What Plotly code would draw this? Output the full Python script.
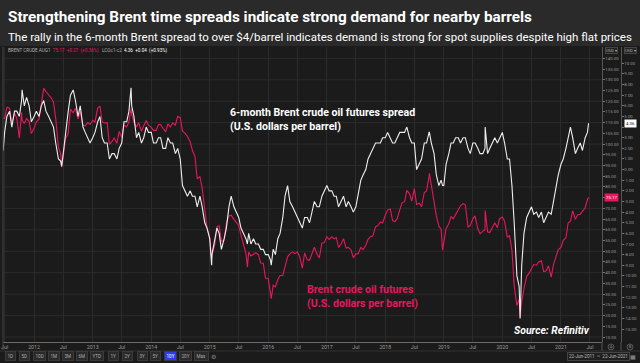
import pandas as pd
import plotly.graph_objects as go

# ---------------- data (semi-monthly readings, 1st and 15th of each month) ----------------
price_2011 = [111.9, 117.2, 116.7, 109.9, 114.3, 112.2, 102.8, 114.7, 109.6, 111.9, 110.5, 104.9]
price_2012 = [107.4, 110.4, 111.6, 118.0, 126.0, 124.5, 123.0, 121.7, 119.7, 112.0, 98.4, 95.5,
              96.0, 102.4, 105.0, 116.3, 114.6, 116.7, 111.7, 115.1, 108.7, 108.5, 110.0, 109.2]
price_2013 = [111.1, 110.3, 116.8, 117.7, 110.4, 109.8, 110.0, 99.9, 101.2, 102.8, 100.4, 105.9,
              103.0, 108.8, 108.0, 110.4, 114.0, 110.1, 108.0, 110.0, 105.9, 108.5, 111.0, 108.8]
price_2014 = [107.8, 106.4, 106.4, 109.1, 109.1, 107.4, 105.6, 109.4, 108.0, 109.8, 108.9, 112.9,
              112.3, 106.0, 105.0, 103.5, 101.0, 97.0, 94.2, 83.8, 84.8, 79.4, 68.2, 61.1]
price_2015 = [56.4, 48.3, 52.9, 61.5, 61.9, 54.7, 55.1, 63.3, 66.5, 66.8, 64.9, 63.6,
              62.0, 57.5, 52.2, 49.0, 49.6, 47.8, 48.7, 49.3, 48.4, 44.5, 44.4, 37.5]
price_2016 = [37.3, 28.9, 34.2, 33.4, 36.8, 38.7, 38.7, 43.1, 47.4, 48.8, 49.7, 48.9,
              49.7, 47.6, 42.1, 49.2, 46.0, 45.8, 49.1, 51.9, 48.6, 46.9, 53.9, 54.0]
price_2017 = [56.8, 55.5, 56.8, 55.8, 56.4, 51.8, 53.5, 55.9, 51.5, 51.8, 50.6, 46.9,
              48.8, 48.9, 51.8, 50.8, 52.8, 55.6, 56.8, 57.2, 61.4, 62.0, 63.7, 63.2]
price_2018 = [66.9, 69.2, 69.7, 64.3, 63.8, 65.1, 69.3, 72.6, 73.1, 78.4, 76.8, 73.4,
              79.2, 71.8, 72.4, 70.8, 77.4, 78.1, 84.9, 80.8, 72.9, 66.6, 61.7, 60.3]
price_2019 = [53.8, 60.6, 62.8, 66.3, 65.1, 67.2, 69.0, 71.2, 72.2, 71.8, 61.3, 62.0,
              65.1, 66.5, 60.5, 58.2, 59.3, 60.2, 59.1, 58.7, 61.7, 63.3, 61.0, 65.2]
price_2020 = [66.0, 64.0, 56.6, 57.3, 50.5, 33.9, 24.7, 27.7, 26.4, 32.5, 38.3, 39.7,
              42.0, 43.8, 43.5, 45.0, 45.6, 40.5, 40.9, 43.2, 37.9, 43.8, 47.4, 50.8]
price_2021 = [51.8, 55.1, 56.3, 63.3, 64.0, 68.9, 64.9, 66.9, 67.3, 68.7, 70.3, 74.0]

spread_2011 = [3.5, 5.0, 5.5, 4.0, 5.5, 5.5, 5.0, 6.5, 6.0, 6.8, 6.0, 4.5]
spread_2012 = [5.0, 5.5, 5.0, 6.0, 6.5, 5.5, 5.0, 4.5, 4.0, 2.5, 1.0, 0.8,
               1.5, 3.5, 5.5, 7.0, 7.5, 6.5, 5.0, 6.0, 4.0, 3.5, 3.0, 2.5]
spread_2013 = [3.0, 3.5, 4.5, 5.0, 3.0, 2.5, 2.5, 1.0, 1.5, 1.5, 1.0, 2.0,
               2.5, 4.5, 4.5, 5.5, 6.0, 5.0, 3.0, 3.5, 2.5, 3.0, 4.0, 3.5]
spread_2014 = [3.5, 2.5, 2.5, 3.0, 3.0, 2.0, 2.0, 3.0, 2.5, 2.5, 1.5, 2.0,
               1.0, -1.5, -2.0, -2.5, -2.0, -2.5, -2.5, -3.5, -2.5, -3.5, -5.0, -5.5]
spread_2015 = [-6.5, -8.0, -6.5, -5.5, -6.0, -7.5, -6.5, -5.5, -3.5, -2.5, -3.5, -4.0,
               -4.5, -5.5, -6.0, -6.5, -6.0, -7.0, -6.5, -7.0, -7.0, -7.5, -7.5, -8.0]
spread_2016 = [-8.0, -8.5, -7.5, -8.0, -6.5, -6.0, -4.5, -2.5, -1.5, -3.0, -3.5, -4.0,
               -4.5, -5.0, -5.5, -4.5, -4.5, -5.0, -4.0, -3.0, -3.5, -3.5, -2.5, -2.0]
spread_2017 = [-1.5, -2.0, -2.0, -2.5, -2.5, -3.5, -3.0, -2.5, -3.5, -3.0, -3.5, -4.0,
               -3.5, -2.5, -1.0, -0.5, 0.0, 1.0, 1.5, 2.0, 2.5, 2.5, 2.5, 3.0]
spread_2018 = [3.0, 3.5, 3.0, 2.5, 2.5, 3.0, 3.5, 3.5, 3.5, 4.0, 3.0, 2.5,
               2.5, 0.0, 0.5, 1.0, 2.5, 2.5, 3.5, 2.5, 1.5, -0.5, -1.5, -1.0]
spread_2019 = [-1.5, 0.5, 1.5, 2.5, 2.5, 3.0, 3.0, 2.5, 3.0, 3.0, 2.0, 1.5,
               2.5, 2.5, 2.0, 1.5, 1.5, 2.0, 1.5, 2.0, 2.5, 3.0, 2.5, 3.0]
spread_2020 = [3.5, 2.5, 1.0, 1.0, -1.5, -5.0, -10.0, -11.0, -9.0, -6.0, -4.5, -4.0,
               -3.5, -4.2, -4.0, -4.5, -4.0, -5.0, -4.5, -4.0, -4.2, -3.0, -1.5, -0.5]
spread_2021 = [0.5, 1.0, 2.0, 3.0, 4.0, 3.0, 1.5, 2.0, 2.5, 1.8, 3.0, 3.5]

# extra daily readings at turning points
extra_dates = ['2011-06-22', '2011-10-18', '2012-06-21', '2013-08-28', '2015-01-13', '2015-08-24',
               '2016-01-20', '2018-10-03', '2018-12-24', '2019-09-16', '2020-04-21', '2021-06-22']
extra_price = [112.0, 111.2, 89.2, 116.6, 46.6, 42.7, 27.9, 86.3, 50.5, 69.0, 19.3, 75.17]
extra_spread = [1.8, 7.5, 0.3, 7.7, -9.0, -7.0, -9.0, 3.5, -1.5, 4.0, -14.0, 4.36]

price_ticks = list(range(10, 145, 5))
spread_ticks = list(range(-15, 11, 1))
x_tick_dates = ['2011-07-01', '2012-01-01', '2012-07-01', '2013-01-01', '2013-07-01', '2014-01-01',
                '2014-07-01', '2015-01-01', '2015-07-01', '2016-01-01', '2016-07-01', '2017-01-01',
                '2017-07-01', '2018-01-01', '2018-07-01', '2019-01-01', '2019-07-01', '2020-01-01',
                '2020-07-01', '2021-01-01', '2021-07-01']
x_tick_text = ['Jul', '2012', 'Jul', '2013', 'Jul', '2014', 'Jul', '2015', 'Jul', '2016', 'Jul', '2017',
               'Jul', '2018', 'Jul', '2019', 'Jul', '2020', 'Jul', '2021', 'Jul']
range_buttons = ['1D', '5D', '10D', '1M', '3M', '6M', 'YTD', '1Y', '2Y', '3Y', '5Y', '10Y', '20Y', 'Max']

# ---------------- assemble series ----------------
base_dates = []
for yr in range(2011, 2022):
    for mo in range(1, 13):
        for dy in (1, 15):
            t = pd.Timestamp(yr, mo, dy)
            if pd.Timestamp('2011-07-01') <= t <= pd.Timestamp('2021-06-15'):
                base_dates.append(t)
base_price = (price_2011 + price_2012 + price_2013 + price_2014 + price_2015 + price_2016 +
              price_2017 + price_2018 + price_2019 + price_2020 + price_2021)
base_spread = (spread_2011 + spread_2012 + spread_2013 + spread_2014 + spread_2015 + spread_2016 +
               spread_2017 + spread_2018 + spread_2019 + spread_2020 + spread_2021)
df = pd.DataFrame({'date': base_dates, 'price': base_price, 'spread': base_spread})
ex = pd.DataFrame({'date': pd.to_datetime(extra_dates), 'price': extra_price, 'spread': extra_spread})
df = pd.concat([df, ex]).sort_values('date').reset_index(drop=True)

# ---------------- figure ----------------
W, H = 640, 363
def px(x):
    return x / W
def py(y):
    return (H - y) / H

PINK = '#e8175d'
WHITE = '#eeeeee'
BG = '#1b1b1b'
HEADER = '#2a2a2a'
GRID = '#2b2b2b'
AXC = '#9a9a9a'
FONT = 'Roboto, sans-serif'

fig = go.Figure()
fig.add_trace(go.Scatter(x=df['date'], y=df['price'], yaxis='y', mode='lines',
                         line=dict(color=PINK, width=1.1), hoverinfo='skip'))
fig.add_trace(go.Scatter(x=df['date'], y=df['spread'], yaxis='y2', mode='lines',
                         line=dict(color=WHITE, width=1.1), hoverinfo='skip'))

PLOT_L, PLOT_R, PLOT_T, PLOT_B = 3, 602, 47, 342
AX2 = 621
X0, X1 = px(PLOT_L), px(PLOT_R)
Y0, Y1 = py(PLOT_B), py(PLOT_T)
# pixel calibration of the two value scales
price_range = [140 - (PLOT_B - 58.3) / 2.144, 140 + (58.3 - PLOT_T) / 2.144]
spread_range = [10 - (PLOT_B - 63.3) / 10.63, 10 + (63.3 - PLOT_T) / 10.63]

price_text = ['' if v == 75 else '%.2f' % v for v in price_ticks]
spread_text = ['' if v == 4 else '%.2f' % v for v in spread_ticks]

fig.update_layout(
    width=W, height=H, margin=dict(l=0, r=0, t=0, b=0),
    paper_bgcolor=BG, plot_bgcolor=BG, showlegend=False,
    font=dict(family=FONT, color=AXC),
    xaxis=dict(domain=[X0, X1], type='date', range=['2011-06-21', '2021-09-14'],
               tickvals=x_tick_dates, ticktext=x_tick_text, tickangle=0, automargin=False,
               tickfont=dict(size=5.3, color=AXC, family='Roboto'),
               showgrid=True, gridcolor=GRID, gridwidth=1, zeroline=False,
               showline=True, linecolor='#6a6a6a', linewidth=1, ticks='',
               anchor='y'),
    yaxis=dict(domain=[Y0, Y1], range=price_range,
               side='right', anchor='free', automargin=False,
               position=px(PLOT_R), tickvals=price_ticks, ticktext=price_text,
               tickfont=dict(size=4.3, color=AXC, family='Roboto'),
               ticks='outside', ticklen=1.5, tickcolor='#777',
               showline=True, linecolor='#555', showgrid=False, zeroline=False),
    yaxis2=dict(domain=[Y0, Y1], range=spread_range,
                side='right', anchor='free', automargin=False,
                overlaying='y', position=px(AX2), tickvals=spread_ticks, ticktext=spread_text,
                tickfont=dict(size=4.3, color=AXC, family='Roboto'),
                ticks='outside', ticklen=1.5, tickcolor='#777',
                showline=True, linecolor='#555', showgrid=False, zeroline=False),
)

shapes = []
# header band
shapes.append(dict(type='rect', xref='paper', yref='paper', x0=0, x1=1, y0=py(46), y1=1,
                   fillcolor=HEADER, line=dict(width=0), layer='below'))
# horizontal grid on the price scale
for v in range(10, 150, 10):
    shapes.append(dict(type='line', xref='paper', yref='y', x0=X0, x1=X1, y0=v, y1=v,
                       line=dict(color=GRID, width=1), layer='below'))
# left border of the chart panel
shapes.append(dict(type='line', xref='paper', yref='paper', x0=px(3), x1=px(3), y0=py(350), y1=py(47),
                   line=dict(color='#444', width=1)))
# axis columns continue below the x axis
for lx in (PLOT_R, AX2):
    shapes.append(dict(type='line', xref='paper', yref='paper', x0=px(lx), x1=px(lx), y0=py(351), y1=py(342),
                       line=dict(color='#555', width=1)))
shapes.append(dict(type='line', xref='paper', yref='paper', x0=0, x1=1, y0=py(351), y1=py(351),
                   line=dict(color='#333', width=1)))
# small axis-mode circles
for cx in (611, 630):
    shapes.append(dict(type='circle', xref='paper', yref='paper', x0=px(cx - 3), x1=px(cx + 3),
                       y0=py(350), y1=py(344), line=dict(color='#555', width=1), fillcolor='#262626'))
fig.update_layout(shapes=shapes)

ann = []
# title and subtitle
ann.append(dict(text='<b>Strengthening Brent time spreads indicate strong demand for nearby barrels</b>',
                x=px(6), y=py(17), xref='paper', yref='paper', xanchor='left', yanchor='middle',
                showarrow=False, font=dict(size=15.3, color='#ffffff', family=FONT)))
ann.append(dict(text='The rally in the 6-month Brent spread to over $4/barrel indicates demand is strong for spot supplies despite high flat prices',
                x=px(6), y=py(37), xref='paper', yref='paper', xanchor='left', yanchor='middle',
                showarrow=False, font=dict(size=11.5, color='#ffffff', family=FONT)))
# legend strip
ann.append(dict(text="BRENT CRUDE AUG1  <span style='color:%s'>75.17  +0.27  (+0.36%%)</span>   LCOc1-c2  <span style='color:#ffffff'>4.36  +0.04  (+0.93%%)</span>" % PINK,
                x=px(6), y=py(51), xref='paper', yref='paper', xanchor='left', yanchor='middle',
                showarrow=False, font=dict(size=4.6, color='#b0b0b0', family='Roboto')))
for cx in (611, 630):
    ann.append(dict(text='USD ▾', x=px(cx), y=py(51), xref='paper', yref='paper',
                    xanchor='center', yanchor='middle', showarrow=False,
                    font=dict(size=4.0, color='#b0b0b0', family='Roboto'),
                    bgcolor='#232323', bordercolor='#444', borderwidth=1, borderpad=0))
# series labels
ann.append(dict(text='<b>6-month Brent crude oil futures spread<br>(U.S. dollars per barrel)</b>',
                x=px(228), y=py(104), xref='paper', yref='paper', xanchor='left', yanchor='top',
                align='left', showarrow=False, font=dict(size=10.6, color='#ffffff', family=FONT)))
ann.append(dict(text='<b>Brent crude oil futures<br>(U.S. dollars per barrel)</b>',
                x=px(305), y=py(281), xref='paper', yref='paper', xanchor='left', yanchor='top',
                align='left', showarrow=False, font=dict(size=10.6, color=PINK, family=FONT)))
ann.append(dict(text='<b><i>Source: Refinitiv</i></b>',
                x=px(592), y=py(330), xref='paper', yref='paper', xanchor='right', yanchor='middle',
                showarrow=False, font=dict(size=10.4, color='#ffffff', family=FONT)))
# last value tags on the axes
ann.append(dict(text='75.17', x=px(611), y=df['price'].iloc[-1], xref='paper', yref='y',
                xanchor='center', yanchor='middle', showarrow=False,
                font=dict(size=4.3, color='#ffffff', family='Roboto'), bgcolor=PINK, borderpad=1))
ann.append(dict(text='4.36', x=px(630), y=df['spread'].iloc[-1], xref='paper', yref='y2',
                xanchor='center', yanchor='middle', showarrow=False,
                font=dict(size=4.3, color='#111111', family='Roboto'), bgcolor='#ffffff', borderpad=1))
# range buttons
btn_x = [10, 24, 39, 54, 68, 82, 97, 113, 127, 142, 155, 170, 185, 201]
for lab, bx in zip(range_buttons, btn_x):
    sel = lab == '10Y'
    ann.append(dict(text=lab, x=px(bx), y=py(356), xref='paper', yref='paper',
                    xanchor='center', yanchor='middle', showarrow=False,
                    font=dict(size=4.6, color='#ffffff' if sel else '#aaaaaa', family='Roboto'),
                    bgcolor='#2c3df0' if sel else '#2a2a2a', bordercolor='#3a3a3a', borderwidth=1,
                    borderpad=1.5))
ann.append(dict(text='⚙', x=px(213), y=py(356), xref='paper', yref='paper', xanchor='center',
                yanchor='middle', showarrow=False, font=dict(size=6, color='#888')))
ann.append(dict(text='22-Jun-2011  ~  22-Jun-2021', x=px(598), y=py(356), xref='paper', yref='paper',
                xanchor='center', yanchor='middle', showarrow=False,
                font=dict(size=4.6, color='#bbbbbb', family='Roboto'),
                bgcolor='#1f1f1f', bordercolor='#444', borderwidth=1, borderpad=1))
ann.append(dict(text='▦', x=px(633), y=py(356), xref='paper', yref='paper', xanchor='center',
                yanchor='middle', showarrow=False, font=dict(size=6, color='#999')))
for cx, lab in ((611, 'A'), (630, 'B')):
    ann.append(dict(text=lab, x=px(cx), y=py(347), xref='paper', yref='paper', xanchor='center',
                    yanchor='middle', showarrow=False, font=dict(size=3.6, color='#888', family='Roboto')))
fig.update_layout(annotations=ann)

# remove the browser's default 8px page margin so the figure sits at the window origin
fig.write_html('out.html', config={'displayModeBar': False},
               post_script="document.body.style.margin='0px';document.body.style.background='#1b1b1b';")
